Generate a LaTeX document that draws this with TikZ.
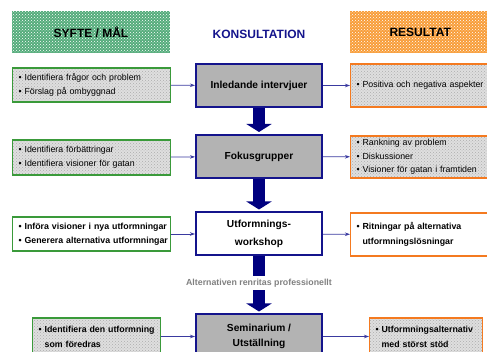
\documentclass[tikz,border=0pt]{standalone}
\usepackage{fontspec}
\setmainfont{Liberation Sans}
\usetikzlibrary{arrows.meta,patterns}
\definecolor{grn}{HTML}{2E9A5E}
\definecolor{grnline}{HTML}{3A9A3A}
\definecolor{org}{HTML}{F7901E}
\definecolor{orgline}{HTML}{F47A20}
\definecolor{navy}{HTML}{14148C}
\definecolor{arrblue}{HTML}{00007F}
\definecolor{conblue}{HTML}{3A3AA0}
\definecolor{boxgray}{HTML}{B3B3B3}
\newcommand{\itm}[1]{\mbox{\textbullet\ #1}}
\newcommand{\cont}[1]{\mbox{\phantom{\textbullet\ }#1}}
\begin{document}
\begin{tikzpicture}[x=1pt,y=-1pt]
  \tikzstyle{every node}=[font=\fontsize{8.8}{14}\selectfont]
  \tikzstyle{head}=[minimum width=158pt,minimum height=42pt,inner sep=0pt,font=\fontsize{12}{14}\selectfont\bfseries]
  \tikzstyle{noise}=[preaction={fill=gray!25},pattern=crosshatch dots,pattern color=gray!65]
  \tikzstyle{goal}=[draw=grnline,line width=1.2pt,align=left,inner xsep=6pt,inner ysep=0pt,anchor=west]
  \tikzstyle{res}=[draw=orgline,line width=1.2pt,align=left,inner xsep=6pt,inner ysep=0pt,anchor=west]
  \tikzstyle{stage}=[draw=navy,line width=2pt,fill=boxgray,minimum width=126pt,minimum height=43pt,
    align=center,font=\fontsize{10.2}{15}\selectfont\bfseries]
  \tikzstyle{conn}=[draw=conblue,line width=0.8pt,-{Stealth[length=5pt,width=3.5pt]}]
  \tikzstyle{bigarr}=[draw=arrblue,line width=12pt,-{Triangle[length=8pt,width=25pt]},shorten >=2pt]
  \tikzstyle{bigshaft}=[draw=arrblue,line width=12pt]
  \clip (0,0) rectangle (487,352);

  % headers
  \node[head,preaction={fill=grn!82!white},pattern=crosshatch dots,pattern color=white] (hsyfte) at (91,32) {SYFTE / MÅL};
  \node[font=\fontsize{12}{14}\selectfont\bfseries,text=navy] (hkons) at (259,34) {KONSULTATION};
  \node[head,anchor=west,minimum width=140pt,preaction={fill=org!88!white},pattern=crosshatch dots,pattern color=white] (hres) at (350,32) {RESULTAT};

  % consultation steps
  \node[stage] (c1) at (259,85.5) {Inledande intervjuer};
  \node[stage] (c2) at (259,156.5) {Fokusgrupper};
  \node[stage,fill=white] (c3) at (259,234) {Utformnings-\\[3pt]workshop};
  \node[stage,minimum height=44pt] (c4) at (259,336.5) {Seminarium /\\Utställning};
  \node[font=\fontsize{8.8}{10}\selectfont\bfseries,text=gray,inner sep=3pt] (alt) at (259,283) {Alternativen renritas professionellt};

  % aims
  \node[goal,noise,text width=146pt,minimum height=34pt] (l1) at (12,85)
    {\itm{Identifiera frågor och problem}\\\itm{Förslag på ombyggnad}};
  \node[goal,noise,text width=146pt,minimum height=35pt] (l2) at (12,157.5)
    {\itm{Identifiera förbättringar}\\\itm{Identifiera visioner för gatan}};
  \node[goal,fill=white,text width=146pt,minimum height=34pt,font=\fontsize{8.8}{14}\selectfont\bfseries] (l3) at (12,234)
    {\itm{Införa visioner i nya utformningar}\\\itm{Generera alternativa utformningar}};
  \node[goal,noise,text width=116pt,minimum height=37pt,font=\fontsize{8.8}{15}\selectfont\bfseries] (l4) at (32,336.5)
    {\itm{Identifiera den utformning}\\\cont{som föredras}};

  % results
  \node[res,noise,text width=128pt,minimum height=43pt] (r1) at (350,85.5)
    {\itm{Positiva och negativa aspekter}};
  \node[res,noise,text width=128pt,minimum height=42pt,font=\fontsize{8.8}{13.5}\selectfont] (r2) at (350,157)
    {\itm{Rankning av problem}\\\itm{Diskussioner}\\\itm{Visioner för gatan i framtiden}};
  \node[res,fill=white,text width=128pt,minimum height=43pt,font=\fontsize{8.8}{15}\selectfont\bfseries] (r3) at (350,234.5)
    {\itm{Ritningar på alternativa}\\\cont{utformningslösningar}};
  \node[res,noise,text width=101pt,minimum height=37pt,font=\fontsize{8.8}{15}\selectfont\bfseries] (r4) at (369,336.5)
    {\itm{Utformningsalternativ}\\\cont{med störst stöd}};

  \draw[bigarr] (c1) -- (c2);
  \draw[bigarr] (c2) -- (c3);
  \draw[bigshaft] (c3) -- (alt);
  \draw[bigarr] (alt) -- (c4);

  \foreach \i in {1,2,3,4} {
    \draw[conn] (l\i) -- (c\i);
    \draw[conn] (c\i) -- (r\i);
  }
\end{tikzpicture}
\end{document}
